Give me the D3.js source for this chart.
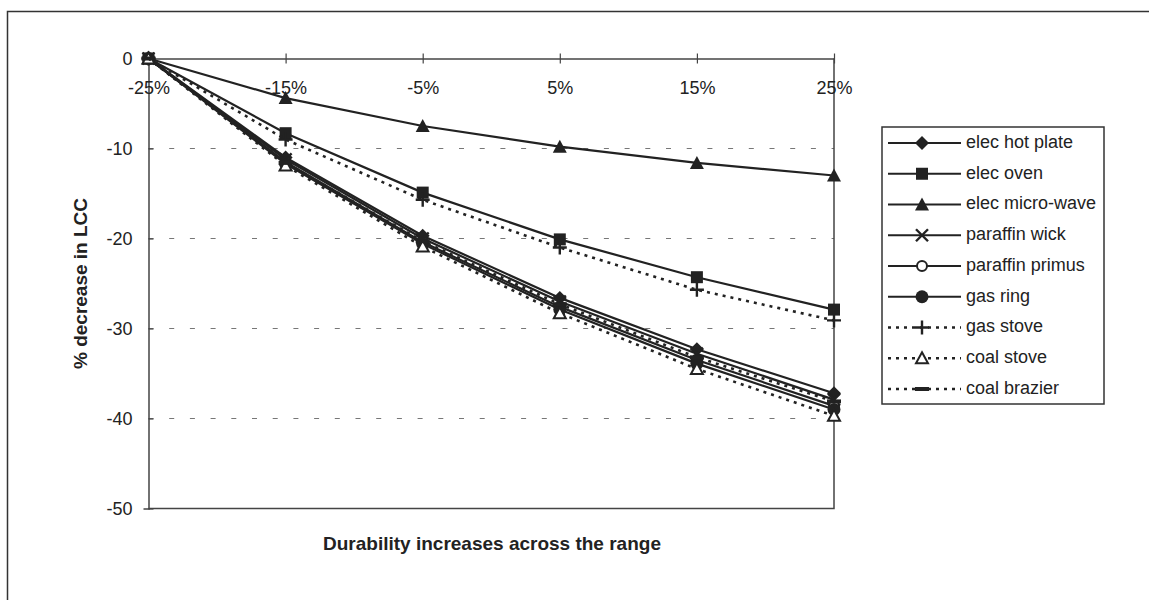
<!DOCTYPE html>
<html>
<head>
<meta charset="utf-8">
<script src="https://cdn.jsdelivr.net/npm/d3@7"></script>
<style>
  html, body { margin: 0; padding: 0; background: #fff; }
  svg { display: block; font-family: "Liberation Sans", Arial, Helvetica, sans-serif; }
</style>
</head>
<body>
<svg id="chart" width="1149" height="600"></svg>
<script>
// Change in durability across the range (x categories)
const categories = ["-25%", "-15%", "-5%", "5%", "15%", "25%"];
const yTickValues = [0, -10, -20, -30, -40, -50];
const gridValues = [-10, -20, -30, -40];

// % decrease in life-cycle cost for each appliance
const elecHotPlate   = [0, -11.0, -19.7, -26.6, -32.3, -37.2];
const elecOven       = [0, -8.3, -14.9, -20.1, -24.3, -27.9];
const elecMicroWave  = [0, -4.4, -7.5, -9.8, -11.6, -13.0];
const paraffinWick   = [0, -11.2, -20.0, -27.0, -32.8, -37.9];
const paraffinPrimus = [0, -11.5, -20.4, -27.6, -33.5, -38.6];
const gasRing        = [0, -11.7, -20.6, -27.9, -33.9, -39.0];
const gasStove       = [0, -9.0, -15.7, -21.0, -25.7, -29.1];
const coalStove      = [0, -11.9, -20.9, -28.3, -34.5, -39.7];
const coalBrazier    = [0, -11.6, -20.3, -27.3, -33.2, -38.1];

const seriesNames = ["elec hot plate", "elec oven", "elec micro-wave", "paraffin wick",
  "paraffin primus", "gas ring", "gas stove", "coal stove", "coal brazier"];
const seriesValues = [elecHotPlate, elecOven, elecMicroWave, paraffinWick,
  paraffinPrimus, gasRing, gasStove, coalStove, coalBrazier];
const seriesMarkers = ["diamond", "square", "triangle", "cross", "circleOpen",
  "circle", "plus", "triangleOpen", "dash"];
const seriesDotted = [false, false, false, false, false, false, true, true, true];

const ink = "#222";
const svg = d3.select("#chart");

// outer frame
svg.append("rect").attr("x", 7.5).attr("y", 11.5).attr("width", 1160).attr("height", 620)
  .attr("fill", "none").attr("stroke", "#333").attr("stroke-width", 1.5);

const plot = { left: 148.5, right: 834, top: 58.5, bottom: 508.5 };
const x = d3.scalePoint().domain(categories).range([plot.left, plot.right]);
const y = d3.scaleLinear().domain([-50, 0]).range([plot.bottom, plot.top]);

// dashed gridlines
svg.append("g").selectAll("line").data(gridValues).join("line")
  .attr("x1", plot.left).attr("x2", plot.right)
  .attr("y1", d => y(d)).attr("y2", d => y(d))
  .attr("stroke", "#777").attr("stroke-width", 1.2)
  .attr("stroke-dasharray", "5,15.7");

// plot area border (bottom and right)
svg.append("path")
  .attr("d", `M${plot.left},${plot.bottom}H${plot.right}V${plot.top}`)
  .attr("fill", "none").attr("stroke", "#444").attr("stroke-width", 1.5);

// y axis on the left, ticks crossing the axis line
const yAxis = svg.append("g").attr("transform", `translate(${plot.left},0)`)
  .call(d3.axisLeft(y).tickValues(yTickValues).tickSize(5).tickPadding(11).tickFormat(d => String(d)));
yAxis.select(".domain").attr("stroke", "#444").attr("stroke-width", 1.5);
yAxis.selectAll(".tick line").attr("x2", 5).attr("stroke", "#444").attr("stroke-width", 1.2);
yAxis.selectAll(".tick text").attr("font-size", 18).attr("fill", ink)
  .attr("font-family", "Liberation Sans, Arial, sans-serif");

// x axis drawn along the zero line, labels below
const xAxis = svg.append("g").attr("transform", `translate(0,${y(0)})`)
  .call(d3.axisBottom(x).tickSize(5).tickPadding(18).tickSizeOuter(0));
xAxis.select(".domain").attr("stroke", "#444").attr("stroke-width", 1.5);
xAxis.selectAll(".tick line").attr("y1", -5).attr("stroke", "#444").attr("stroke-width", 1.2);
xAxis.selectAll(".tick text").attr("font-size", 18).attr("fill", ink)
  .attr("font-family", "Liberation Sans, Arial, sans-serif");

// axis titles
svg.append("text").attr("transform", `translate(82,${(plot.top + plot.bottom) / 2}) rotate(-90)`)
  .attr("text-anchor", "middle").attr("dominant-baseline", "middle")
  .attr("font-size", 19).attr("font-weight", "bold").attr("fill", ink)
  .text("% decrease in LCC");
svg.append("text").attr("x", 492).attr("y", 550)
  .attr("text-anchor", "middle").attr("font-size", 19).attr("font-weight", "bold").attr("fill", ink)
  .text("Durability increases across the range");

// marker drawing
function drawMarker(g, type, cx, cy) {
  const s = 6;
  if (type === "diamond") {
    g.append("path").attr("d", `M${cx},${cy - s - 1}L${cx + s + 1},${cy}L${cx},${cy + s + 1}L${cx - s - 1},${cy}Z`).attr("fill", ink);
  } else if (type === "square") {
    g.append("rect").attr("x", cx - s).attr("y", cy - s).attr("width", 2 * s).attr("height", 2 * s).attr("fill", ink);
  } else if (type === "triangle") {
    g.append("path").attr("d", `M${cx},${cy - s - 1}L${cx + s + 1},${cy + s}L${cx - s - 1},${cy + s}Z`).attr("fill", ink);
  } else if (type === "triangleOpen") {
    g.append("path").attr("d", `M${cx},${cy - s}L${cx + s},${cy + s - 1}L${cx - s},${cy + s - 1}Z`)
      .attr("fill", "#fff").attr("stroke", ink).attr("stroke-width", 2);
  } else if (type === "cross") {
    g.append("path").attr("d", `M${cx - s},${cy - s}L${cx + s},${cy + s}M${cx - s},${cy + s}L${cx + s},${cy - s}`)
      .attr("stroke", ink).attr("stroke-width", 2.4).attr("fill", "none");
  } else if (type === "plus") {
    g.append("path").attr("d", `M${cx - s - 1},${cy}H${cx + s + 1}M${cx},${cy - s - 1}V${cy + s + 1}`)
      .attr("stroke", ink).attr("stroke-width", 2.4).attr("fill", "none");
  } else if (type === "circleOpen") {
    g.append("circle").attr("cx", cx).attr("cy", cy).attr("r", s - 1)
      .attr("fill", "#fff").attr("stroke", ink).attr("stroke-width", 2);
  } else if (type === "circle") {
    g.append("circle").attr("cx", cx).attr("cy", cy).attr("r", s + 0.5).attr("fill", ink);
  } else if (type === "dash") {
    g.append("path").attr("d", `M${cx - s - 1},${cy}H${cx + s + 1}`)
      .attr("stroke", ink).attr("stroke-width", 4).attr("fill", "none");
  }
}

const line = d3.line().x((d, i) => x(categories[i])).y(d => y(d));
const seriesG = svg.append("g");
seriesValues.forEach((vals, k) => {
  const g = seriesG.append("g");
  g.append("path").attr("d", line(vals)).attr("fill", "none")
    .attr("stroke", ink).attr("stroke-width", seriesDotted[k] ? 2.6 : 2.2)
    .attr("stroke-dasharray", seriesDotted[k] ? "3,5" : null);
  vals.forEach((v, i) => drawMarker(g, seriesMarkers[k], x(categories[i]), y(v)));
});

// legend
const legend = svg.append("g");
legend.append("rect").attr("x", 882).attr("y", 127).attr("width", 222).attr("height", 277)
  .attr("fill", "#fff").attr("stroke", "#333").attr("stroke-width", 1.5);
seriesNames.forEach((name, k) => {
  const ly = 143 + k * 30.75;
  const g = legend.append("g");
  g.append("line").attr("x1", 888).attr("x2", 961).attr("y1", ly).attr("y2", ly)
    .attr("stroke", ink).attr("stroke-width", seriesDotted[k] ? 2.6 : 2.2)
    .attr("stroke-dasharray", seriesDotted[k] ? "3,5" : null);
  drawMarker(g, seriesMarkers[k], 922, ly);
  g.append("text").attr("x", 966).attr("y", ly).attr("dominant-baseline", "middle")
    .attr("font-size", 18).attr("fill", ink).text(name);
});
</script>
</body>
</html>
